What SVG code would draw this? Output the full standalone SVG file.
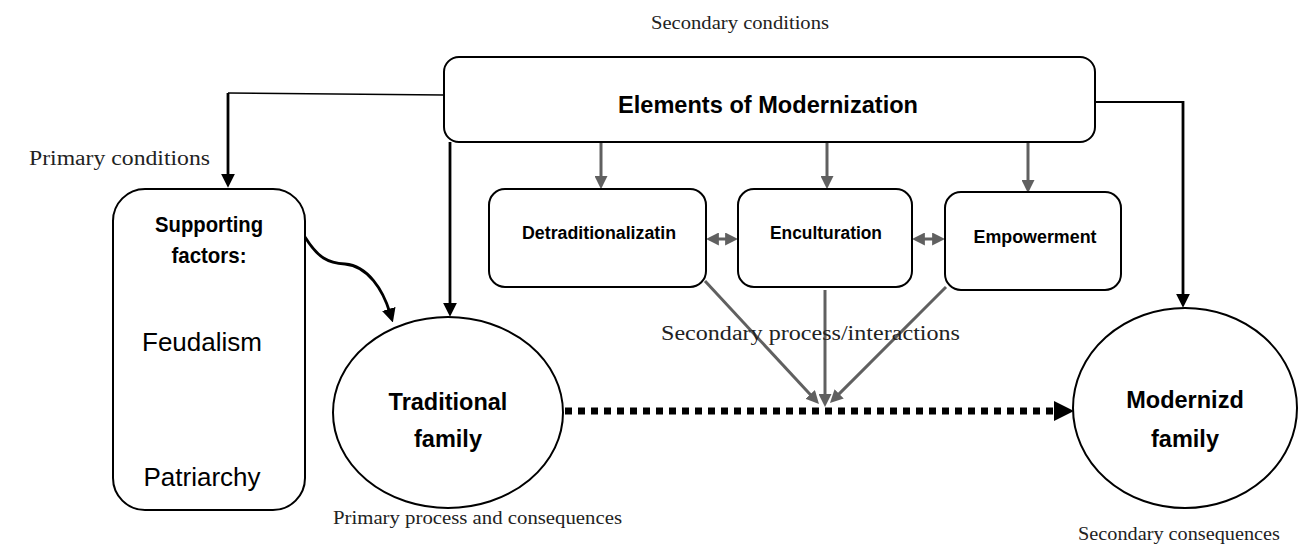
<svg xmlns="http://www.w3.org/2000/svg" width="1309" height="544" viewBox="0 0 1309 544">
<style>
.box{fill:#fff;stroke:#000;stroke-width:2}
.bt{font-family:"Liberation Sans",Arial,sans-serif;font-weight:bold;fill:#000;text-anchor:middle}
.rt{font-family:"Liberation Sans",Arial,sans-serif;fill:#000;text-anchor:middle}
.st{font-family:"Liberation Serif","Times New Roman",serif;fill:#222}
.blk{fill:none;stroke:#000}
.gry{fill:none;stroke:#606060;stroke-width:3}
</style>
<defs>
<marker id="ab" viewBox="0 0 10 10" refX="3" refY="5" markerWidth="14" markerHeight="15" markerUnits="userSpaceOnUse" orient="auto"><path d="M0,0 L10,5 L0,10 z" fill="#000"/></marker>
<marker id="ag" viewBox="0 0 10 10" refX="3" refY="5" markerWidth="13" markerHeight="13" markerUnits="userSpaceOnUse" orient="auto-start-reverse"><path d="M0,0 L10,5 L0,10 z" fill="#606060"/></marker>
<marker id="ad" viewBox="0 0 10 10" refX="0" refY="5" markerWidth="20" markerHeight="20" markerUnits="userSpaceOnUse" orient="auto"><path d="M0,0 L10,5 L0,10 z" fill="#000"/></marker>
</defs>
<g id="connectors">
<path class="blk" stroke-width="1.6" d="M444,95 L228,93"/>
<path class="blk" stroke-width="2.8" d="M228,93 L228,178" marker-end="url(#ab)"/>
<path class="blk" stroke-width="2.8" d="M450,142 L450,307" marker-end="url(#ab)"/>
<path class="blk" stroke-width="2.8" d="M305,237 C318,258 328,263 345,264 C368,266 383,290 390,313" marker-end="url(#ab)"/>
<path class="blk" stroke-width="2" d="M1095,102 L1183,102"/>
<path class="blk" stroke-width="2.8" d="M1183,101 L1183,298" marker-end="url(#ab)"/>
<path class="gry" d="M601,142 L601,180" marker-end="url(#ag)"/>
<path class="gry" d="M827,142 L827,180" marker-end="url(#ag)"/>
<path class="gry" d="M1028,142 L1028,184" marker-end="url(#ag)"/>
<path class="gry" stroke-width="4" d="M715,239 L729,239" marker-start="url(#ag)" marker-end="url(#ag)"/>
<path class="gry" stroke-width="4" d="M921,239 L936,239" marker-start="url(#ag)" marker-end="url(#ag)"/>
<path class="gry" d="M705,281 L812.8,397.3" marker-end="url(#ag)"/>
<path class="gry" d="M825,290 L825,397.9" marker-end="url(#ag)"/>
<path class="gry" d="M946,287 L836.4,396.6" marker-end="url(#ag)"/>
<path class="blk" stroke-width="7" stroke-dasharray="7 6" d="M565,411 L1054,411" marker-end="url(#ad)"/>
</g>
<g id="elements">
<rect class="box" x="444" y="57" width="651" height="85" rx="15"/>
<text class="bt" x="768" y="113" font-size="23.5" textLength="300" lengthAdjust="spacingAndGlyphs">Elements of Modernization</text>
</g>
<g id="supporting">
<rect class="box" x="113" y="189" width="192" height="321" rx="32"/>
<text class="bt" x="209" y="232" font-size="21.5" textLength="108" lengthAdjust="spacingAndGlyphs">Supporting</text>
<text class="bt" x="209" y="263" font-size="21.5" textLength="75" lengthAdjust="spacingAndGlyphs">factors:</text>
<text class="rt" x="202" y="351" font-size="26">Feudalism</text>
<text class="rt" x="202" y="486" font-size="26">Patriarchy</text>
</g>
<g id="detraditionalization">
<rect class="box" x="489" y="189" width="217" height="98" rx="16"/>
<text class="bt" x="599" y="239" font-size="17.5" textLength="154" lengthAdjust="spacingAndGlyphs">Detraditionalizatin</text>
</g>
<g id="enculturation">
<rect class="box" x="738" y="189" width="174" height="98" rx="16"/>
<text class="bt" x="826" y="238.5" font-size="17.6" textLength="112" lengthAdjust="spacingAndGlyphs">Enculturation</text>
</g>
<g id="empowerment">
<rect class="box" x="945" y="192" width="176" height="98" rx="16"/>
<text class="bt" x="1035" y="243" font-size="17.8" textLength="123" lengthAdjust="spacingAndGlyphs">Empowerment</text>
</g>
<g id="traditional">
<ellipse class="box" cx="448" cy="412.5" rx="115" ry="95.5"/>
<text class="bt" x="448" y="410" font-size="23.5">Traditional</text>
<text class="bt" x="448" y="447" font-size="23.5">family</text>
</g>
<g id="modernized">
<ellipse class="box" cx="1185" cy="408" rx="112" ry="100"/>
<text class="bt" x="1185" y="408" font-size="23.5">Modernizd</text>
<text class="bt" x="1185" y="447" font-size="23.5">family</text>
</g>
<g id="labels">
<text class="st" x="651" y="29" font-size="18" textLength="178" lengthAdjust="spacingAndGlyphs">Secondary conditions</text>
<text class="st" x="29" y="165" font-size="20.5" textLength="181" lengthAdjust="spacingAndGlyphs">Primary conditions</text>
<text class="st" x="661" y="340" font-size="20.5" textLength="299" lengthAdjust="spacingAndGlyphs">Secondary process/interactions</text>
<text class="st" x="333" y="524" font-size="18" textLength="289" lengthAdjust="spacingAndGlyphs">Primary process and consequences</text>
<text class="st" x="1078" y="540" font-size="18" textLength="202" lengthAdjust="spacingAndGlyphs">Secondary consequences</text>
</g>
</svg>
